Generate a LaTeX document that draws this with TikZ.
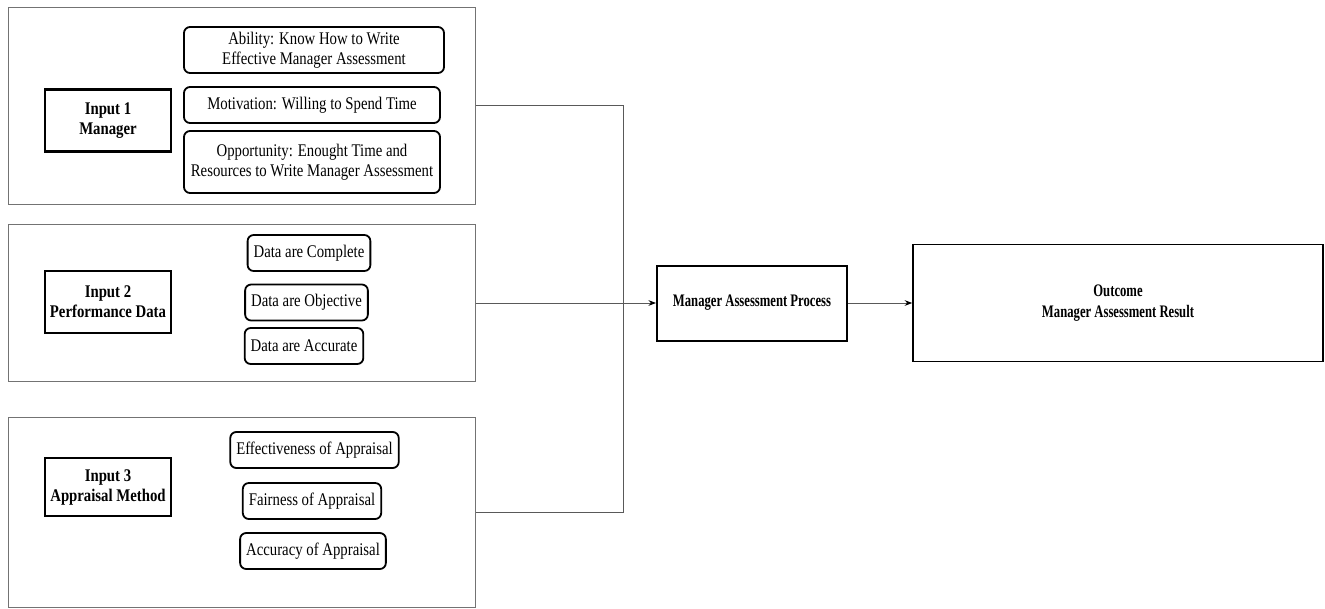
\documentclass[tikz,border=0pt]{standalone}
\usepackage{fontspec}
\setmainfont{Liberation Serif}
\newfontfamily\nrwfont{Liberation Serif}[FakeStretch=0.83]
\newfontfamily\prcfont{Liberation Serif}[FakeStretch=0.72]
\usetikzlibrary{arrows.meta,positioning}

\begin{document}
\begin{tikzpicture}[x=1pt,y=-1pt,>=Stealth]
\tikzstyle{grp}=[draw=black!55,line width=1pt,minimum width=467pt]
\tikzstyle{inp}=[draw,line width=2.2pt,minimum width=126pt,minimum height=62pt,font=\nrwfont\fontsize{17.8}{20}\selectfont\bfseries,align=center]
\tikzstyle{itm}=[draw,rounded corners=6pt,line width=1.8pt,minimum height=36pt,inner xsep=6pt,font=\nrwfont\fontsize{17.8}{20}\selectfont,align=center]
\tikzstyle{prc}=[draw,line width=2pt,font=\prcfont\fontsize{17.6}{21.5}\selectfont\bfseries,align=center]
\tikzstyle{conn}=[draw=black!65,line width=1pt]
\useasboundingbox (0,0) rectangle (1325,608);
% input groups
\node[grp,minimum height=197pt] (g1) at (241.5,105.5) {};
\node[grp,minimum height=157pt] (g2) at (241.5,303) {};
\node[grp,minimum height=190pt] (g3) at (241.5,512) {};
\node[inp] (in1) at (108,120.5) {Input 1\\Manager};
\node[inp] (in2) at (108,302) {Input 2\\Performance Data};
\node[inp,minimum height=58pt] (in3) at (108,487) {Input 3\\Appraisal Method};
% manager items
\node[itm,minimum width=260pt,minimum height=46pt] (abl) at (314,50) {Ability: Know How to Write\\Effective Manager Assessment};
\node[itm,minimum width=256pt] (mot) at (312,105) {Motivation: Willing to Spend Time};
\node[itm,minimum width=256pt,minimum height=62pt] (opp) at (312,162) {Opportunity: Enought Time and\\Resources to Write Manager Assessment};
% data items
\foreach \n/\x/\y/\t in {dcp/309/253/Complete,dob/306.5/302.5/Objective,dac/304/346/Accurate}
  \node[itm] (\n) at (\x,\y) {Data are \t};
% appraisal items
\foreach \n/\x/\y/\t in {aef/314.5/450/Effectiveness,afa/312/501/Fairness,aac/313/551/Accuracy}
  \node[itm] (\n) at (\x,\y) {\t\ of Appraisal};
% process and outcome
\node[prc,minimum width=190pt,minimum height=75pt] (proc) at (752,303) {Manager Assessment Process};
\node[prc,minimum width=410pt,minimum height=117pt,line width=1.6pt] (out) at (1118,303) {Outcome\\Manager Assessment Result};
% connectors
\draw[conn] (g1.east) -- ++(148,0) |- (g3.east);
\draw[conn,-{Stealth[black]}] (g2.east) -- (proc.west);
\draw[conn,-{Stealth[black]}] (proc.east) -- (out.west);
\end{tikzpicture}
\end{document}
